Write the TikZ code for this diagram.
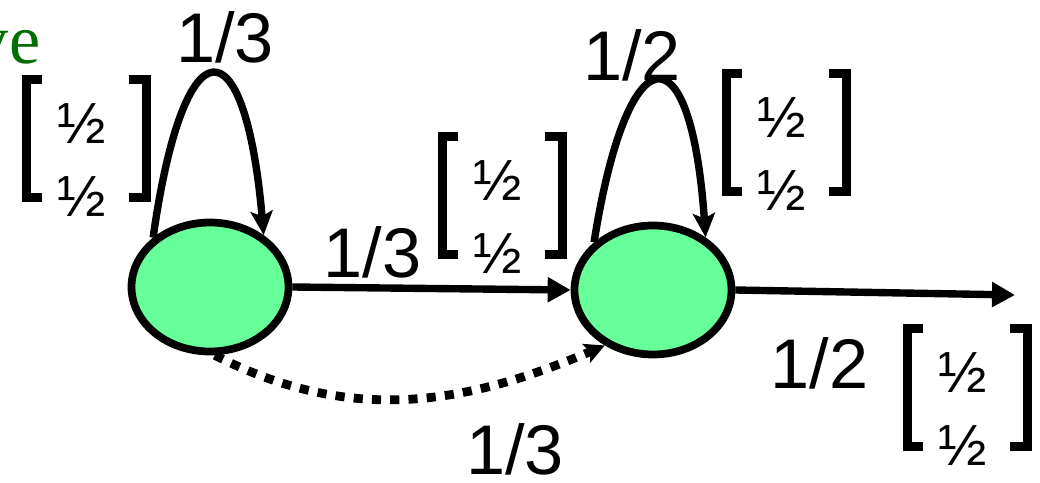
\documentclass[tikz,border=0pt]{standalone}
\usepackage{fontspec}
\setmainfont{Liberation Sans}
\newfontfamily\notefont{Liberation Serif}
\usepackage{xcolor}
\usepackage{tikz}
\usetikzlibrary{shapes,arrows.meta,positioning}

\definecolor{stategreen}{RGB}{102,255,153}
\definecolor{notegreen}{RGB}{0,110,0}

% brackets round a probability vector
\newcommand{\vecbrackets}[1]{%
  \draw[bracket] ([shift={(-0.40,0.805)}]#1.center) -| ([shift={(-0.56,-0.375)}]#1.center) -- ([shift={(-0.40,-0.375)}]#1.center);
  \draw[bracket] ([shift={(0.47,0.805)}]#1.center) -| ([shift={(0.645,-0.375)}]#1.center) -- ([shift={(0.47,-0.375)}]#1.center);
}

\begin{document}
\begin{tikzpicture}[
    state/.style={ellipse, draw, line width=2.2pt, fill=stategreen, minimum width=1.57cm, minimum height=1.29cm, inner sep=0pt},
    arrow/.style={-{Triangle[length=0.23cm,width=0.24cm]}, line width=2.1pt},
    loop/.style={-{Stealth[length=0.24cm,width=0.22cm,inset=0.05cm]}, line width=2.1pt},
    dotarrow/.style={-{Stealth[length=0.2cm,width=0.2cm,inset=0.04cm]}, line width=2.5pt, dash pattern=on 2.6pt off 2.6pt},
    lbl/.style={font=\fontsize{20}{24}\selectfont, inner sep=1pt},
    vecnum/.style={font=\fontsize{16.5}{17}\selectfont, align=center, inner sep=0pt},
    bracket/.style={line width=0.09cm}
]
\useasboundingbox (0,0) rectangle (10.40,4.82);

% note cut at the edge
\node[anchor=base east, text=notegreen, font=\notefont\fontsize{20}{24}\selectfont, inner sep=0pt] (note) at (0.41,4.18) {ve};

% states
\node[state] (s1) at (2.10,1.95) {};
\node[state] (s2) at (6.53,1.92) {};
\coordinate (exit) at (10.15,1.87);

% transitions
\draw[loop] (s1.139) .. controls +(82:2.18) and +(95:2.17) .. (s1.44);
\draw[loop] (s2.141) .. controls +(81:2.13) and +(94:2.13) .. (s2.45);
\draw[arrow] (s1.east) -- node[lbl, pos=0.287, above=0.02cm] (p12) {1/3} (s2.west);
\draw[arrow] (s2.east) -- node[lbl, pos=0.30, below=0.385cm] (p2x) {1/2} (exit);
\draw[dotarrow] (s1.-86) to[out=-27, in=203] (s2.229);

% labels
\node[lbl] (p11) at (2.25,4.45) {1/3};
\node[lbl] (p22) at (6.32,4.27) {1/2};
\node[lbl] (p13) at (5.15,0.33) {1/3};

% output vectors
\node[vecnum] (v1) at (0.82,3.22) {½\\[4pt]½};
\node[vecnum] (v2) at (4.98,2.65) {½\\[4pt]½};
\node[vecnum] (v3) at (7.82,3.28) {½\\[4pt]½};
\node[vecnum] (v4) at (9.63,0.73) {½\\[4pt]½};
\vecbrackets{v1}
\vecbrackets{v2}
\vecbrackets{v3}
\vecbrackets{v4}

\end{tikzpicture}
\end{document}
